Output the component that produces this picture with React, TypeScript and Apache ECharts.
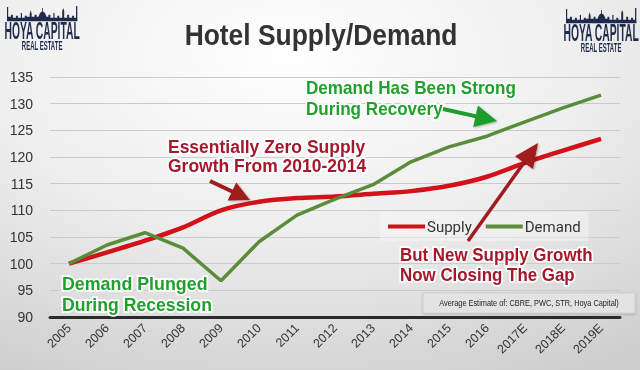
import React, { useEffect, useRef } from "react";
import * as echarts from "echarts";

const years = ["2005", "2006", "2007", "2008", "2009", "2010", "2011", "2012", "2013", "2014", "2015", "2016", "2017E", "2018E", "2019E"];
const supply = [100, 102.1, 104.3, 106.8, 110, 111.6, 112.3, 112.6, 113.1, 113.6, 114.6, 116.3, 118.9, 121.2, 123.4];
const demand = [100, 103.5, 105.8, 102.9, 96.8, 104.1, 109.1, 112.1, 114.8, 119.1, 121.9, 123.9, 126.6, 129.2, 131.6];
const yTicks = { min: 90, max: 135, interval: 5 };

const RED_TEXT = "#a3192b";
const GREEN_TEXT = "#22a02e";
const NAVY = "#1f2b4d";

// skyline outline (relative units, width ~72, base at 16)
const skyline: number[][] = [
  [0, 16], [0, 2], [1.2, 2], [1.2, 12], [4, 12], [4, 10], [6, 10], [6, 13], [9, 13], [9, 11], [11, 11], [11, 13],
  [14, 13], [14, 8], [15.2, 8], [15.2, 13], [18, 13], [18, 11], [20, 11], [20, 12], [23, 12], [23, 9], [24, 5],
  [25, 9], [25, 12], [28, 12], [28, 10], [30, 10], [30, 12], [32, 12], [33, 9], [34, 7.5], [35.6, 6.5], [35.6, 3],
  [36.4, 3], [36.4, 6.5], [38, 7.5], [39, 9], [40, 12], [42, 12], [42, 10], [44, 10], [44, 13], [47, 13], [47, 8],
  [48.2, 8], [48.2, 13], [51, 13], [51, 11], [53, 11], [53, 13], [56, 13], [56, 6], [57, 3], [58, 6], [58, 13],
  [61, 13], [61, 10], [63, 10], [63, 13], [66, 13], [66, 11], [68, 11], [68, 13], [70, 13], [70, 1], [71.3, 1], [71.3, 16],
];

function logo(x: number, y: number, w: number): any[] {
  const s = w / 72;
  const pts = skyline.map(([px, py]) => [x + px * s, y + py * s]);
  return [
    { type: "polygon", shape: { points: pts }, style: { fill: NAVY } },
    { type: "rect", shape: { x: x, y: y + 14.5 * s, width: 71.3 * s, height: 2 * s }, style: { fill: NAVY } },
    {
      type: "text", x: x + 35.6 * s, y: y + 26 * s, scaleX: 0.43,
      style: { text: "HOYA CAPITAL", fontSize: 24, fontWeight: "bold", fontFamily: "Liberation Sans", fill: NAVY, align: "center", verticalAlign: "middle" },
    },
    {
      type: "text", x: x + 35.6 * s, y: y + 41 * s, scaleX: 0.5,
      style: { text: "REAL ESTATE", fontSize: 12, fontWeight: "bold", fontFamily: "Liberation Sans", fill: NAVY, align: "center", verticalAlign: "middle" },
    },
  ];
}

function arrow(x1: number, y1: number, x2: number, y2: number, headLen: number, headW: number, shaftW: number, color: string): any[] {
  const dx = x2 - x1, dy = y2 - y1;
  const L = Math.hypot(dx, dy);
  const ux = dx / L, uy = dy / L;
  const nx = -uy, ny = ux;
  const bx = x2 - ux * headLen, by = y2 - uy * headLen;
  const head = [
    [bx + nx * headW / 2, by + ny * headW / 2],
    [x2, y2],
    [bx - nx * headW / 2, by - ny * headW / 2],
  ];
  return [
    {
      type: "line", z: 20,
      shape: { x1, y1, x2: bx + ux * 2, y2: by + uy * 2 },
      style: { stroke: color, lineWidth: shaftW, lineCap: "butt" },
    },
    {
      type: "polygon", z: 20, shape: { points: head },
      style: { fill: color, shadowBlur: 2, shadowColor: "rgba(0,0,0,0.3)", shadowOffsetX: 1, shadowOffsetY: 1 },
    },
  ];
}

function note(text: string, x: number, y: number, color: string, size: number, scaleX: number): any {
  return {
    type: "text", x, y, scaleX, z: 20,
    style: {
      text, fill: color, fontSize: size, fontWeight: "bold", fontFamily: "Liberation Sans",
      align: "left", verticalAlign: "middle",
      stroke: "#ffffff", lineWidth: 3.5,
      shadowBlur: 3, shadowColor: "rgba(0,0,0,0.45)", shadowOffsetX: 1, shadowOffsetY: 2,
    },
  };
}

export default function App() {
  const ref = useRef<HTMLDivElement>(null);
  useEffect(() => {
    if (!ref.current) return;
    const chart = echarts.init(ref.current, undefined, { renderer: "svg" });
    chart.setOption({
      animation: false,
      backgroundColor: {
        type: "radial", x: 0.45, y: 0.15, r: 0.95,
        colorStops: [
          { offset: 0, color: "#ffffff" },
          { offset: 0.5, color: "#eeeeee" },
          { offset: 1, color: "#cfcfcf" },
        ],
      },
      grid: { left: 50, right: 20, top: 77, bottom: 53 },
      xAxis: {
        type: "category",
        data: years,
        boundaryGap: true,
        axisLine: { show: true, lineStyle: { color: "#2a2a2a", width: 3 } },
        axisTick: { show: false },
        axisLabel: { rotate: 45, fontSize: 12.5, color: "#333", fontFamily: "Liberation Sans", margin: 9 },
      },
      yAxis: {
        type: "value",
        min: yTicks.min, max: yTicks.max, interval: yTicks.interval,
        axisLine: { show: false },
        axisTick: { show: false },
        axisLabel: { fontSize: 14, color: "#333", fontFamily: "Liberation Sans", margin: 17 },
        splitLine: { lineStyle: { color: "#cbcbcb", width: 1 } },
      },
      legend: {
        data: ["Supply", "Demand"],
        left: 380, top: 212,
        icon: "rect", itemWidth: 37, itemHeight: 4, itemGap: 14,
        padding: [7, 8],
        backgroundColor: "rgba(245,245,245,0.5)",
        textStyle: { fontSize: 15, color: "#333", fontFamily: "Roboto", padding: [0, 0, 0, -3] },
      },
      series: [
        {
          name: "Supply", type: "line", data: supply, smooth: 0.3, symbol: "none",
          lineStyle: { color: "#d21119", width: 4.5 }, itemStyle: { color: "#d21119" },
        },
        {
          name: "Demand", type: "line", data: demand, smooth: false, symbol: "none",
          lineStyle: { color: "#5a8d3a", width: 3.5 }, itemStyle: { color: "#5a8d3a" },
        },
      ],
      graphic: [
        ...logo(7, 5, 71),
        ...logo(566, 7, 71),
        {
          type: "text", x: 321, y: 34, scaleX: 0.88,
          style: { text: "Hotel Supply/Demand", fontSize: 30, fontWeight: "bold", fontFamily: "Liberation Sans", fill: "#333", align: "center", verticalAlign: "middle" },
        },
        note("Essentially Zero Supply", 168, 146, RED_TEXT, 19, 0.92),
        note("Growth From 2010-2014", 168, 165, RED_TEXT, 19, 0.92),
        note("Demand Has Been Strong", 306, 88, GREEN_TEXT, 18, 0.95),
        note("During Recovery", 306, 109, GREEN_TEXT, 18, 0.95),
        note("Demand Plunged", 62, 284, GREEN_TEXT, 18, 0.99),
        note("During Recession", 62, 305, GREEN_TEXT, 18, 0.98),
        note("But New Supply Growth", 400, 255, RED_TEXT, 18, 0.94),
        note("Now Closing The Gap", 400, 275, RED_TEXT, 18, 0.94),
        ...arrow(210, 181, 250, 200, 20, 20, 4, "#a11a1f"),
        ...arrow(443, 109, 497, 121, 22, 22, 4, "#1f9c2b"),
        ...arrow(468, 241, 538, 143, 24, 22, 3.5, "#a11a1f"),
        {
          type: "rect", z: 10, shape: { x: 423, y: 293, width: 212, height: 20 },
          style: { fill: "#e3e3e3", stroke: "#cfcfcf", lineWidth: 1, shadowBlur: 2, shadowColor: "rgba(0,0,0,0.2)", shadowOffsetY: 1 },
        },
        {
          type: "text", z: 11, x: 529, y: 303, scaleX: 0.82,
          style: { text: "Average Estimate of: CBRE, PWC, STR, Hoya Capital)", fontSize: 9, fontFamily: "Liberation Sans", fill: "#222", align: "center", verticalAlign: "middle" },
        },
      ],
    });
    return () => chart.dispose();
  }, []);
  return <div ref={ref} style={{ position: "fixed", left: 0, top: 0, width: 640, height: 370 }} />;
}
